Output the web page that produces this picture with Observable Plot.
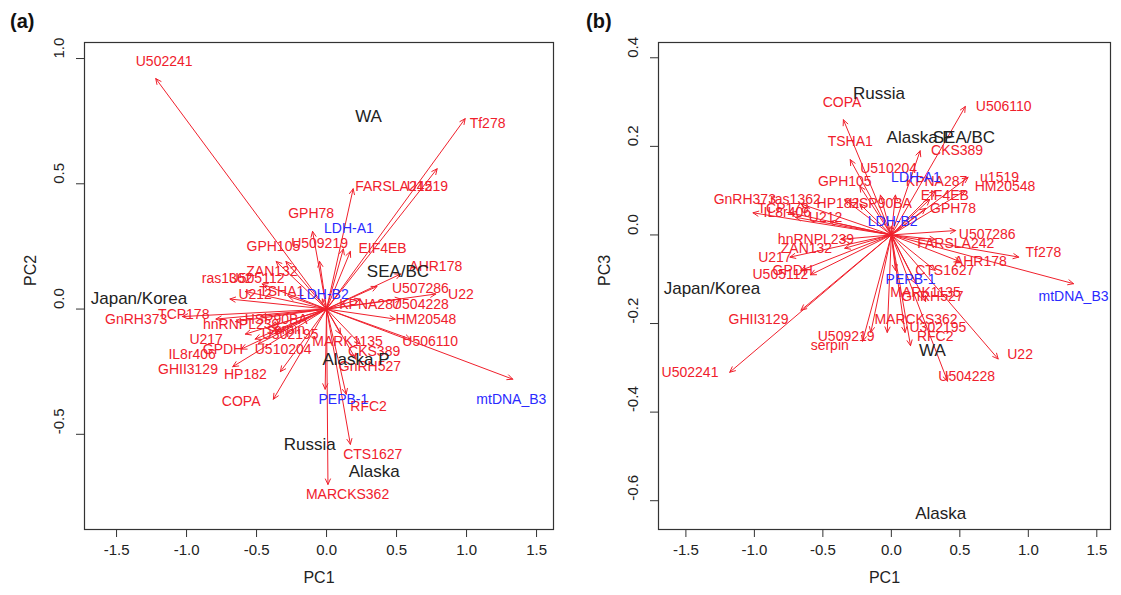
<!DOCTYPE html>
<html><head><meta charset="utf-8">
<script src="https://cdn.jsdelivr.net/npm/d3@7"></script>
<script src="https://cdn.jsdelivr.net/npm/@observablehq/plot@0.6"></script>
<style>
body{margin:0;background:#fff;font-family:"Liberation Sans",Arial,sans-serif;}
#wrap{position:relative;width:1121px;height:595px;overflow:hidden;}
.panel{position:absolute;top:0;}
.tag{position:absolute;font-weight:bold;font-size:20px;color:#111;z-index:2;}
</style></head><body>
<div id="wrap">
 <div id="pa" class="panel" style="left:0"></div>
 <div id="pb" class="panel" style="left:560px"></div>
 <div class="tag" style="left:10px;top:10px">(a)</div>
 <div class="tag" style="left:586px;top:10px">(b)</div>
</div>
<script>
// ---------- Panel (a): PC1 vs PC2 ----------
const namesA = ["U502241","Tf278","FARSLA242","U1519","GPH78","GPH105","U509219","LDH-A1","EIF4EB","ZAN132",
 "ras1362","U505112","U212","TSHA1","LDH-B2","AHR178","U507286","U22","U504228","KPNA287",
 "HM20548","U506110","MARK1135","CKS389","GnRH527","PEPB-1","RFC2","mtDNA_B3","CTS1627","MARCKS362",
 "COPA","HP182","GHII3129","IL8r406","U217","GPDH","U510204","GnRH373","TCP178","hnRNPL239",
 "HSP90BA","serpin","U302195"];
const tipPC1A = [-1.22,0.99,0.19,0.79,-0.10,-0.29,-0.05,0.12,0.17,-0.36,
 -0.58,-0.46,-0.69,-0.27,-0.03,0.53,0.36,0.78,0.53,0.24,
 0.49,0.60,0.10,0.24,0.21,-0.01,0.14,1.33,0.17,0.01,
 -0.38,-0.33,-0.67,-0.61,-0.58,-0.51,-0.49,-1.03,-0.79,-0.65,
 -0.47,-0.40,-0.36];
const tipPC2A = [0.92,0.76,0.48,0.56,0.31,0.19,0.19,0.24,0.23,0.19,
 0.07,0.10,0.04,0.05,0.04,0.14,0.09,0.06,0.04,0.04,
 -0.04,-0.12,-0.10,-0.14,-0.20,-0.32,-0.34,-0.28,-0.54,-0.70,
 -0.36,-0.25,-0.23,-0.16,-0.10,-0.12,-0.14,-0.03,-0.04,-0.05,
 -0.03,-0.07,-0.09];
const labPC1A = [-1.16,1.15,0.48,0.72,-0.11,-0.38,-0.05,0.16,0.40,-0.39,
 -0.71,-0.50,-0.51,-0.32,-0.02,0.78,0.67,0.96,0.67,0.31,
 0.71,0.74,0.15,0.34,0.31,0.12,0.30,1.32,0.33,0.15,
 -0.61,-0.58,-0.99,-0.96,-0.86,-0.74,-0.31,-1.36,-1.02,-0.61,
 -0.36,-0.29,-0.26];
const labPC2A = [0.99,0.74,0.49,0.49,0.38,0.25,0.26,0.32,0.24,0.15,
 0.12,0.12,0.06,0.07,0.06,0.17,0.08,0.06,0.02,0.02,
 -0.04,-0.13,-0.13,-0.17,-0.23,-0.36,-0.39,-0.36,-0.58,-0.74,
 -0.37,-0.26,-0.24,-0.18,-0.12,-0.16,-0.16,-0.04,-0.02,-0.06,
 -0.04,-0.08,-0.10];
const groupsA = ["WA","SEA/BC","Japan/Korea","Russia","Alaska","Alaska P"];
const groupPC1A = [0.30,0.51,-1.34,-0.12,0.34,0.21];
const groupPC2A = [0.77,0.15,0.04,-0.54,-0.65,-0.20];

// ---------- Panel (b): PC1 vs PC3 ----------
const namesB = ["COPA","TSHA1","GPH105","U510204","GnRH373","ras1362","TCP178","IL8r406","U212","HP182",
 "HSP90BA","LDH-A1","LDH-B2","U506110","CKS389","u1519","KPNA287","HM20548","EIF4EB","GPH78",
 "U507286","FARSLA242","Tf278","AHR178","mtDNA_B3","PEPB-1","CTS1627","MARK1135","GnRH527","MARCKS362",
 "U302195","RFC2","U22","U504228","U509219","serpin","GHII3129","U502241","hnRNPL239","ZAN132",
 "U217","GPDH","U505112"];
const tipPC1B = [-0.35,-0.30,-0.23,-0.08,-1.01,-0.66,-0.74,-0.70,-0.45,-0.34,
 -0.23,0.03,0.00,0.54,0.21,0.56,0.32,0.54,0.28,0.25,
 0.47,0.32,0.93,0.50,1.33,0.03,0.32,0.18,0.25,-0.03,
 0.10,0.14,0.78,0.41,-0.21,-0.15,-0.66,-1.18,-0.37,-0.34,
 -0.74,-0.66,-0.59];
const tipPC3B = [0.26,0.17,0.11,0.09,0.05,0.07,0.05,0.04,0.03,0.08,
 0.07,0.09,0.02,0.29,0.19,0.13,0.10,0.10,0.08,0.06,
 0.01,-0.01,-0.05,-0.06,-0.11,-0.08,-0.08,-0.11,-0.15,-0.22,
 -0.22,-0.25,-0.28,-0.33,-0.24,-0.22,-0.17,-0.31,-0.01,-0.03,
 -0.05,-0.08,-0.09];
const labPC1B = [-0.36,-0.30,-0.34,-0.02,-1.07,-0.70,-0.79,-0.76,-0.48,-0.39,
 -0.08,0.18,0.01,0.82,0.48,0.79,0.33,0.83,0.39,0.45,
 0.70,0.47,1.11,0.65,1.33,0.14,0.39,0.25,0.30,0.18,
 0.34,0.32,0.94,0.55,-0.33,-0.45,-0.97,-1.47,-0.55,-0.62,
 -0.85,-0.72,-0.81];
const labPC3B = [0.30,0.21,0.12,0.15,0.08,0.08,0.06,0.05,0.04,0.07,
 0.07,0.13,0.03,0.29,0.19,0.13,0.12,0.11,0.09,0.06,
 0.00,-0.02,-0.04,-0.06,-0.14,-0.10,-0.08,-0.13,-0.14,-0.19,
 -0.21,-0.23,-0.27,-0.32,-0.23,-0.25,-0.19,-0.31,-0.01,-0.03,
 -0.05,-0.08,-0.09];
const groupsB = ["Russia","Alaska P","SEA/BC","Japan/Korea","WA","Alaska"];
const groupPC1B = [-0.09,0.21,0.53,-1.31,0.30,0.36];
const groupPC3B = [0.32,0.22,0.22,-0.12,-0.26,-0.63];

const blueVars = ["LDH-A1","LDH-B2","PEPB-1","mtDNA_B3"];
const xTicks = [-1.5,-1.0,-0.5,0.0,0.5,1.0,1.5];
const yTicksA = [-0.5,0.0,0.5,1.0];
const yTicksB = [-0.6,-0.4,-0.2,0.0,0.2,0.4];

const RED = "#f0202c", BLUE = "#2a2aff", INK = "#222";

function panel(o) {
  const vars = o.names.map((n, i) => ({name: n, ax: o.tx[i], ay: o.ty[i], lx: o.lx[i], ly: o.ly[i]}));
  const reds = vars.filter(d => !blueVars.includes(d.name));
  const blues = vars.filter(d => blueVars.includes(d.name));
  const groups = o.gNames.map((n, i) => ({name: n, x: o.gx[i], y: o.gy[i]}));
  return Plot.plot({
    width: o.width, height: 595,
    marginLeft: o.ml, marginRight: o.mr, marginTop: 42, marginBottom: 66,
    x: {domain: o.xDomain},
    y: {domain: o.yDomain},
    style: {fontFamily: "'Liberation Sans', Arial, sans-serif", color: INK, background: "white", overflow: "visible"},
    marks: [
      Plot.arrow(reds, {x1: () => 0, y1: () => 0, x2: "ax", y2: "ay", stroke: RED, strokeWidth: 1, headLength: 9, headAngle: 50}),
      Plot.arrow(blues, {x1: () => 0, y1: () => 0, x2: "ax", y2: "ay", stroke: RED, strokeWidth: 1, headLength: 9, headAngle: 50}),
      Plot.text(reds, {x: "lx", y: "ly", text: "name", fill: RED, fontSize: 14}),
      Plot.text(blues, {x: "lx", y: "ly", text: "name", fill: BLUE, fontSize: 14}),
      Plot.text(groups, {x: "x", y: "y", text: "name", fill: INK, fontSize: 17}),
      Plot.frame({stroke: "#333", strokeWidth: 1.2}),
      Plot.axisX({ticks: xTicks, tickFormat: d => d.toFixed(1), tickSize: 8, tickPadding: 7, fontSize: 15, label: null, stroke: "#333"}),
      Plot.axisY({ticks: o.yTicks, tickFormat: () => "", tickSize: 8, label: null, stroke: "#333"}),
      Plot.text(o.yTicks, {y: d => d, frameAnchor: "left", dx: -25, rotate: -90, text: d => d.toFixed(1), fontSize: 15, fill: INK}),
      Plot.text([o.xLabel], {frameAnchor: "bottom", dy: 53, text: d => d, fontSize: 16, fill: INK}),
      Plot.text([o.yLabel], {frameAnchor: "left", dx: -54, rotate: -90, text: d => d, fontSize: 16, fill: INK})
    ]
  });
}

document.getElementById("pa").append(panel({
  names: namesA, tx: tipPC1A, ty: tipPC2A, lx: labPC1A, ly: labPC2A,
  gNames: groupsA, gx: groupPC1A, gy: groupPC2A,
  width: 560, ml: 84, mr: 7, xDomain: [-1.729, 1.621], yDomain: [-0.88, 1.064],
  yTicks: yTicksA, xLabel: "PC1", yLabel: "PC2"
}));
document.getElementById("pb").append(panel({
  names: namesB, tx: tipPC1B, ty: tipPC3B, lx: labPC1B, ly: labPC3B,
  gNames: groupsB, gx: groupPC1B, gy: groupPC3B,
  width: 561, ml: 98, mr: 11, xDomain: [-1.70, 1.60], yDomain: [-0.665, 0.4345],
  yTicks: yTicksB, xLabel: "PC1", yLabel: "PC3"
}));
</script>
</body></html>
